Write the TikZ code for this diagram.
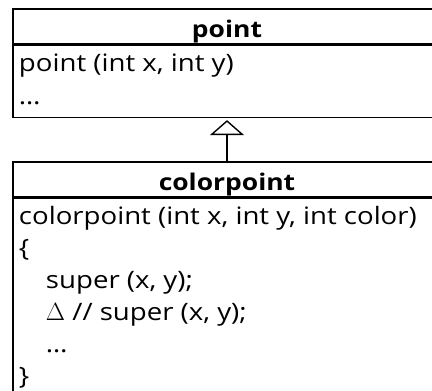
\documentclass[tikz,border=0pt]{standalone}
\usepackage{fontspec}
\setmainfont[FakeStretch=1.15]{Open Sans}
\usetikzlibrary{arrows.meta}

% body of a class box: fixed height, lines from the top
\newcommand{\membertext}[2]{\parbox[t][#1][t]{416pt}{\fontsize{24}{32}\selectfont\rule{0pt}{20pt}#2}}
\newcommand{\ind}{\hspace*{27pt}}

\begin{document}
\begin{tikzpicture}[x=1pt, y=1pt, line width=1.4pt,
  every node/.style={draw, minimum width=428pt, inner xsep=6pt, inner ysep=6pt},
  classname/.style={minimum height=35pt, inner ysep=0pt, text height=23pt, text depth=0pt,
    font=\fontsize{23}{27}\selectfont\bfseries},
  classbody/.style={anchor=north, align=left},
  inherits/.style={-{Triangle[open, width=34pt, length=15pt]}, shorten >=2pt}]
  \useasboundingbox (0,0) rectangle (432,391);
  \clip (0,0) rectangle (432,391);

  % base class
  \node[classname] (pointname) at (227,364.5) {point};
  \node[classbody] (pointbody) at (pointname.south)
    {\membertext{60pt}{point (int x, int y)\\[1pt] …}};

  % derived class
  \node[classname] (colorname) at (227,211.5) {colorpoint};
  \node[classbody] (colorbody) at (colorname.south)
    {\membertext{192pt}{colorpoint (int x, int y, int color)\\
      \{\\
      \ind super (x, y);\\
      \ind $\Delta$ // super (x, y);\\
      \ind …\\
      \}}};

  \draw[inherits] (colorname) -- (pointbody);
\end{tikzpicture}
\end{document}
